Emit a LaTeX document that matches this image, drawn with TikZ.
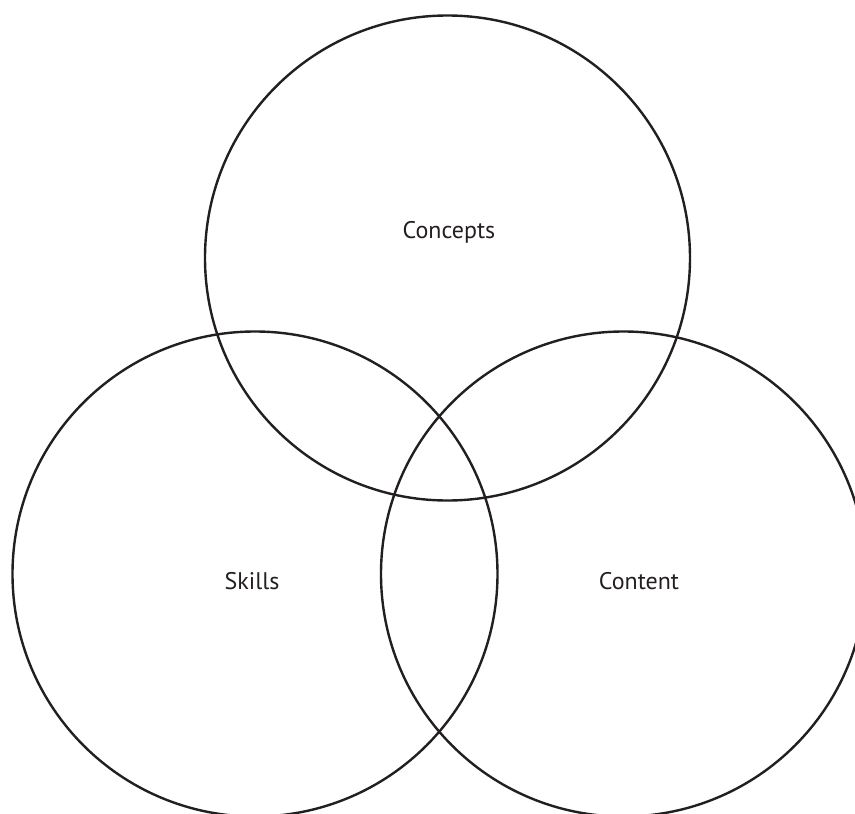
\documentclass[tikz,border=0pt]{standalone}
\usepackage{fontspec}
\setmainfont{PT Sans}
\definecolor{ink}{HTML}{231F20}
\begin{document}
\begin{tikzpicture}[x=1pt,y=-1pt,
  ring/.style={circle, draw=ink, line width=2.4pt, minimum size=485pt, inner sep=0pt},
  lbl/.style={text=ink, font=\fontsize{24}{28}\selectfont, inner sep=0pt, anchor=base}]
\useasboundingbox (0,0) rectangle (855,814);
\begin{scope}
\clip (0,0) rectangle (855,814);
\node[ring] (concepts) at (447.5,258) {};
\node[ring] (skills) at (255,574) {};
\node[ring] (content) at (623.5,574) {};
\end{scope}
\node[lbl] (tconcepts) at (449,238) {Concepts};
\node[lbl] (tskills) at (252,589) {Skills};
\node[lbl] (tcontent) at (639,589) {Content};
\end{tikzpicture}
\end{document}
